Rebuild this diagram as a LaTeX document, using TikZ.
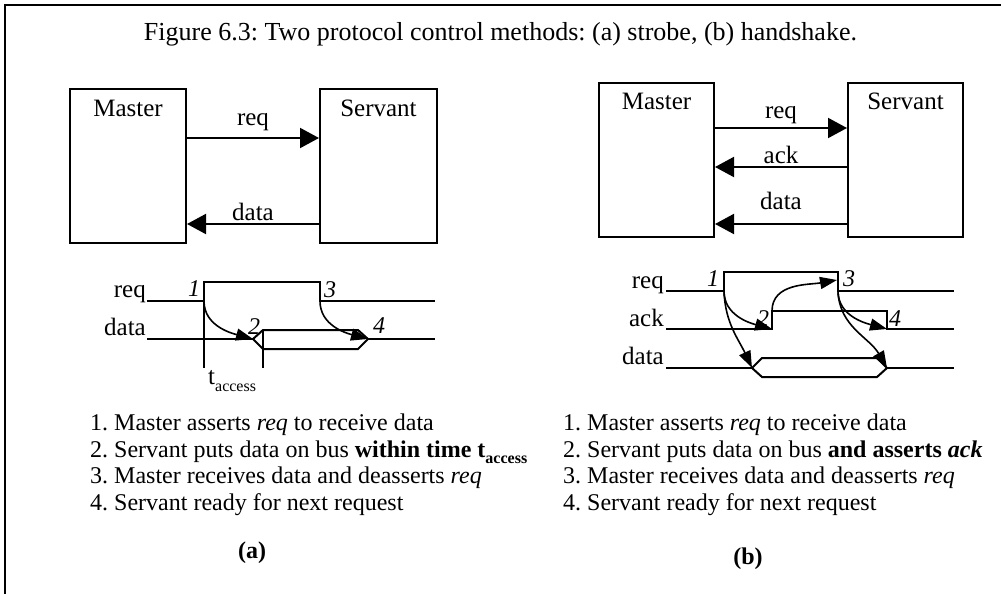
\documentclass[tikz,border=0pt]{standalone}
\usepackage{fontspec}
\setmainfont{Liberation Serif}
\usetikzlibrary{arrows.meta}
\frenchspacing
\tikzset{
  boxnode/.style={draw, line width=2pt, inner sep=0pt},
  wave/.style={line width=2pt, line join=miter},
  bigarr/.style={line width=2pt, -{Triangle[length=19pt,width=20pt]}},
  tarr/.style={line width=1.6pt, -{Triangle[length=17pt,width=12pt]}},
  lbl/.style={inner sep=0pt, anchor=base, font=\fontsize{25}{27}\selectfont},
  siglbl/.style={inner sep=0pt, anchor=base east, font=\fontsize{25}{27}\selectfont},
  bodytxt/.style={inner sep=0pt, anchor=base west, font=\fontsize{24}{27}\selectfont},
  numlbl/.style={inner sep=0pt, anchor=base, font=\fontsize{24}{26}\selectfont\itshape},
  caplbl/.style={inner sep=0pt, anchor=base, font=\fontsize{24}{27}\selectfont\bfseries},
}
\newcommand{\subacc}[1]{\raisebox{-0.28em}{\fontsize{16}{16}\selectfont #1}}
\begin{document}
\begin{tikzpicture}[x=1pt,y=-1pt]
\useasboundingbox (0,0) rectangle (1001,594);
% frame
\draw[line width=2.5pt] (5,594) -- (5,5) -- (1001,5);
% title
\node[lbl, font=\fontsize{26}{28}\selectfont] (title) at (500.5,41) {Figure 6.3: Two protocol control methods: (a) strobe, (b) handshake.};

% ===== (a) block diagram =====
\node[boxnode, minimum width=116pt, minimum height=154pt] (mA) at (128,166) {};
\node[boxnode, minimum width=117pt, minimum height=154pt] (sA) at (378.5,166) {};
\node[lbl] (mAl) at (128,116) {Master};
\node[lbl] (sAl) at (378.5,116) {Servant};
\coordinate (yAreq) at (0,138);
\coordinate (yAdat) at (0,224);
\draw[bigarr] (mA.east |- yAreq) -- (sA.west |- yAreq);
\draw[bigarr] (sA.west |- yAdat) -- (mA.east |- yAdat);
\node[lbl] (reqAl) at (253,125) {req};
\node[lbl] (datAl) at (253,220) {data};

% ===== (a) timing =====
\node[siglbl] (treqA) at (146,297) {req};
\node[siglbl] (tdatA) at (146,335) {data};
\draw[wave] (147,301) -- (204,301) -- (204,282) -- (320,282) -- (320,301) -- (435,301);
\draw[wave] (204,301) -- (204,368);
\draw[wave] (147,339) -- (253,339);
\draw[wave] (253,339) -- (263,330) -- (358,330) -- (368,339) -- (358,349) -- (263,349) -- cycle;
\draw[wave] (368,339) -- (435,339);
\draw[wave] (263,330) -- (263,368);
\node[inner sep=0pt, anchor=base west, font=\fontsize{25}{27}\selectfont] (tacc) at (208,384) {t\subacc{access}};
\coordinate (A1) at (204,301);
\coordinate (A2) at (253,339);
\coordinate (A3) at (320,301);
\coordinate (A4) at (368,339);
\draw[tarr] (A1) to[out=-90,in=165] (A2);
\draw[tarr] (A3) to[out=-90,in=165] (A4);
\node[numlbl] (nA1) at (194,296) {1};
\node[numlbl] (nA2) at (254,334) {2};
\node[numlbl] (nA3) at (330,297) {3};
\node[numlbl] (nA4) at (379,333) {4};

% ===== (a) text =====
\node[bodytxt] (a1) at (90,430) {1. Master asserts \textit{req} to receive data};
\node[bodytxt] (a2) at (90,457) {2. Servant puts data on bus \textbf{within time t\subacc{access}}};
\node[bodytxt] (a3) at (90,483) {3. Master receives data and deasserts \textit{req}};
\node[bodytxt] (a4) at (90,510) {4. Servant ready for next request};
\node[caplbl] (capa) at (252,558) {(a)};

% ===== (b) block diagram =====
\node[boxnode, minimum width=115pt, minimum height=154pt] (mB) at (656.5,160) {};
\node[boxnode, minimum width=115pt, minimum height=154pt] (sB) at (905.5,160) {};
\node[lbl] (mBl) at (656.5,110) {Master};
\node[lbl] (sBl) at (905.5,110) {Servant};
\coordinate (yBreq) at (0,128);
\coordinate (yBack) at (0,167);
\coordinate (yBdat) at (0,224);
\draw[bigarr] (mB.east |- yBreq) -- (sB.west |- yBreq);
\draw[bigarr] (sB.west |- yBack) -- (mB.east |- yBack);
\draw[bigarr] (sB.west |- yBdat) -- (mB.east |- yBdat);
\node[lbl] (reqBl) at (781,118) {req};
\node[lbl] (ackBl) at (781,163) {ack};
\node[lbl] (datBl) at (781,209) {data};

% ===== (b) timing =====
\node[siglbl] (treqB) at (664,288) {req};
\node[siglbl] (tackB) at (664,326) {ack};
\node[siglbl] (tdatB) at (664,364) {data};
\draw[wave] (666,291) -- (724,291) -- (724,272) -- (838,272) -- (838,291) -- (954,291);
\draw[wave] (666,329) -- (772,329) -- (772,311) -- (887,311) -- (887,329) -- (954,329);
\draw[wave] (666,368) -- (752,368);
\draw[wave] (752,368) -- (762,358) -- (877,358) -- (887,368) -- (877,377) -- (762,377) -- cycle;
\draw[wave] (887,368) -- (954,368);
\coordinate (B1) at (724,291);
\coordinate (B2) at (772,329);
\coordinate (B2t) at (772,311);
\coordinate (B3) at (837,280);
\coordinate (B3s) at (838,291);
\coordinate (B4) at (887,329);
\coordinate (Bd1) at (752,368);
\coordinate (Bd2) at (887,368);
\draw[tarr] (B1) to[out=-90,in=165] (B2);
\draw[tarr] (B1) to[out=-88,in=115] (Bd1);
\draw[tarr] (B2t) to[out=90,in=190] (B3);
\draw[tarr] (B3s) to[out=-90,in=165] (B4);
\draw[tarr] (B3s) to[out=-88,in=120] (Bd2);
\node[numlbl] (nB1) at (713,286) {1};
\node[numlbl] (nB2) at (763,326) {2};
\node[numlbl] (nB3) at (849,286) {3};
\node[numlbl] (nB4) at (895,326) {4};

% ===== (b) text =====
\node[bodytxt] (b1) at (563,430) {1. Master asserts \textit{req} to receive data};
\node[bodytxt] (b2) at (563,457) {2. Servant puts data on bus \textbf{and asserts \textit{ack}}};
\node[bodytxt] (b3) at (563,483) {3. Master receives data and deasserts \textit{req}};
\node[bodytxt] (b4) at (563,510) {4. Servant ready for next request};
\node[caplbl] (capb) at (748,564) {(b)};
\end{tikzpicture}
\end{document}
